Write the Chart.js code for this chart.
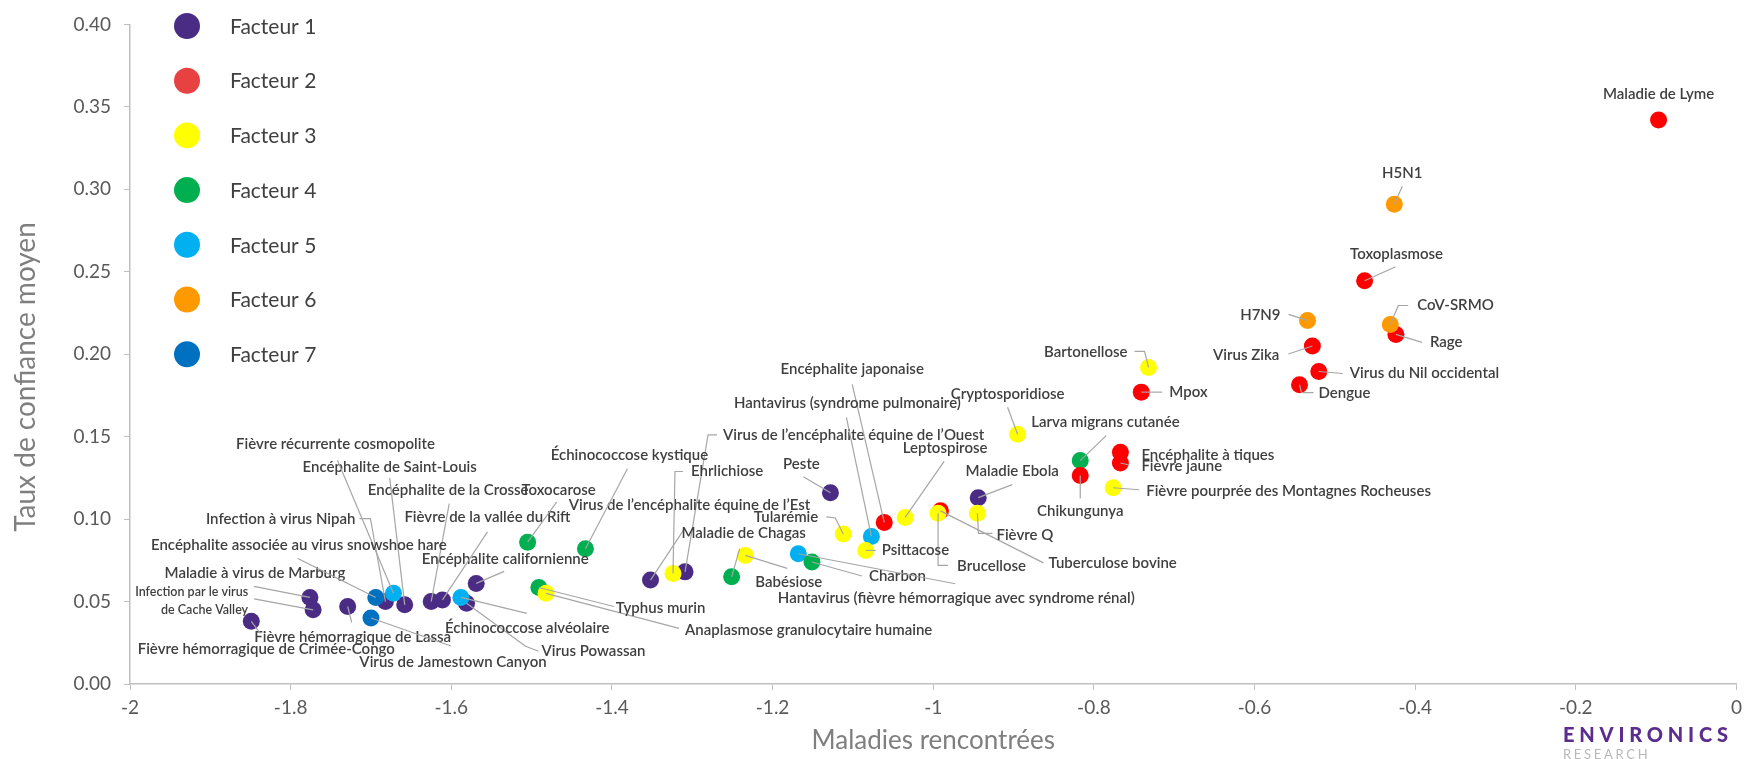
<!DOCTYPE html>
<html>
<head>
<meta charset="utf-8">
<script src="https://cdn.jsdelivr.net/npm/chart.js@4.4.1/dist/chart.umd.min.js"></script>
<style>
html, body { margin:0; padding:0; background:#fff; }
#wrap { position:relative; width:1748px; height:759px; overflow:hidden; }
#logo { position:absolute; left:1563px; top:724px; font-family:Lato, sans-serif; }
#logo .e { color:#5b2d8e; font-weight:900; font-size:20px; letter-spacing:4.8px; line-height:20px; }
#logo .r { color:#b8b8b8; font-size:13px; letter-spacing:2.7px; line-height:13px; margin-top:4px; }
</style>
</head>
<body>
<div id="wrap">
  <canvas id="chart" width="1748" height="759"></canvas>
  <div id="logo"><div class="e">ENVIRONICS</div><div class="r">RESEARCH</div></div>
</div>
<script>
// factors (series)
var factorNames = ['Facteur 1', 'Facteur 2', 'Facteur 3', 'Facteur 4', 'Facteur 5', 'Facteur 6', 'Facteur 7'];

// one entry per disease
var diseases = [
    'Peste', 'Maladie Ebola', 'Virus de l’encéphalite équine de l’Ouest', 'Virus de l’encéphalite équine de l’Est',
    'Encéphalite californienne', 'Virus Powassan', 'Fièvre de la vallée du Rift', 'Encéphalite de la Crosse',
    'Encéphalite de Saint-Louis', 'Infection à virus Nipah', 'Maladie à virus de Marburg',
    'Infection par le virus de Cache Valley', 'Fièvre hémorragique de Lassa', 'Fièvre hémorragique de Crimée-Congo',
    'Maladie de Lyme', 'Toxoplasmose', 'Rage', 'Virus Zika', 'Virus du Nil occidental', 'Dengue', 'Mpox',
    'Encéphalite à tiques', 'Fièvre jaune', 'Chikungunya', 'Encéphalite japonaise', 'Tuberculose bovine',
    'Bartonellose', 'Cryptosporidiose', 'Fièvre pourprée des Montagnes Rocheuses', 'Fièvre Q', 'Brucellose',
    'Leptospirose', 'Tularémie', 'Psittacose', 'Babésiose', 'Ehrlichiose', 'Anaplasmose granulocytaire humaine',
    'Larva migrans cutanée', 'Maladie de Chagas', 'Charbon', 'Échinococcose kystique', 'Toxocarose', 'Typhus murin',
    'Hantavirus (syndrome pulmonaire)', 'Hantavirus (fièvre hémorragique avec syndrome rénal)',
    'Fièvre récurrente cosmopolite', 'Échinococcose alvéolaire',
    'H5N1', 'H7N9', 'CoV-SRMO',
    'Encéphalite associée au virus snowshoe hare', 'Virus de Jamestown Canyon'
];
// Maladies rencontrées
var xValues = [
    -1.128, -0.944, -1.309, -1.352, -1.569, -1.581, -1.611, -1.625, -1.658, -1.682, -1.776, -1.772, -1.729, -1.849,
    -0.097, -0.463, -0.424, -0.528, -0.520, -0.544, -0.741, -0.767, -0.767, -0.817, -1.061, -0.991,
    -0.732, -0.895, -0.776, -0.945, -0.994, -1.035, -1.112, -1.084, -1.234, -1.324, -1.482,
    -0.817, -1.251, -1.151, -1.433, -1.505, -1.491,
    -1.077, -1.168, -1.672, -1.588,
    -0.426, -0.534, -0.431,
    -1.694, -1.700
];
// Taux de confiance moyen
var yValues = [
    0.116, 0.113, 0.068, 0.063, 0.061, 0.049, 0.051, 0.050, 0.048, 0.050, 0.0525, 0.045, 0.047, 0.038,
    0.342, 0.2445, 0.212, 0.205, 0.1895, 0.1815, 0.177, 0.1405, 0.134, 0.1265, 0.098, 0.105,
    0.192, 0.1515, 0.119, 0.1035, 0.1035, 0.101, 0.091, 0.081, 0.078, 0.067, 0.055,
    0.1355, 0.065, 0.074, 0.082, 0.086, 0.0585,
    0.0895, 0.079, 0.055, 0.0525,
    0.291, 0.2205, 0.218,
    0.0525, 0.040
];
var factorOf = [
    0, 0, 0, 0, 0, 0, 0, 0, 0, 0, 0, 0, 0, 0,
    1, 1, 1, 1, 1, 1, 1, 1, 1, 1, 1, 1,
    2, 2, 2, 2, 2, 2, 2, 2, 2, 2, 2,
    3, 3, 3, 3, 3, 3,
    4, 4, 4, 4,
    5, 5, 5,
    6, 6
];

var xTitle = 'Maladies rencontrées';
var yTitle = 'Taux de confiance moyen';

// styling
var pointColors = ['#4b2c85', '#ff0000', '#ffff00', '#00b050', '#00b0f0', '#ff9900', '#0070c0'];
var legendColors = ['#4b2c85', '#e84142', '#ffff00', '#00b050', '#00b0f0', '#ff9900', '#0070c0'];
var drawOrder = [6, 2, 1, 3, 4, 0, 5]; // lower = on top
var labelFont = '600 15px Lato';
var smallFont = '600 12.5px Lato';

// label placement, pixel offsets from the point: t = text anchor, k = elbow, e = leader end
var labelLayout = {
    'Maladie de Lyme': {t:[0,-26], a:'c'},
    'H5N1': {t:[8,-31], a:'c', e:[8,-18]},
    'Toxoplasmose': {t:[32,-27], a:'c', e:[31,-14]},
    'H7N9': {t:[-27,-5], a:'r', e:[-19,-6]},
    'CoV-SRMO': {t:[27,-19], a:'l', k:[8,-19], e:[18,-19]},
    'Rage': {t:[34,8], a:'l', e:[26,8]},
    'Virus Zika': {t:[-33,9], a:'r', e:[-24,8]},
    'Virus du Nil occidental': {t:[31,2], a:'l', e:[24,2]},
    'Dengue': {t:[19,8], a:'l', k:[2,8], e:[14,8]},
    'Mpox': {t:[28,0], a:'l', e:[21,0]},
    'Bartonellose': {t:[-21,-15], a:'r', k:[-4,-16], e:[-14,-16]},
    'Cryptosporidiose': {t:[-10,-40], a:'c', e:[-10,-27]},
    'Larva migrans cutanée': {t:[-49,-38], a:'l', e:[26,-25]},
    'Encéphalite à tiques': {t:[21,3], a:'l'},
    'Fièvre jaune': {t:[21,3], a:'l', e:[9,2]},
    'Chikungunya': {t:[0,36], a:'c', e:[0,23]},
    'Fièvre pourprée des Montagnes Rocheuses': {t:[33,3], a:'l', e:[26,2]},
    'Fièvre Q': {t:[19,22], a:'l', k:[1,20], e:[15,20]},
    'Maladie Ebola': {t:[34,-27], a:'c', e:[34,-13]},
    'Brucellose': {t:[19,53], a:'l', k:[0,52], e:[10,52]},
    'Tuberculose bovine': {t:[108,52], a:'l', e:[103,52]},
    'Leptospirose': {t:[40,-69], a:'c', e:[39,-56]},
    'Encéphalite japonaise': {t:[-32,-153], a:'c', e:[-32,-138]},
    'Hantavirus (syndrome pulmonaire)': {t:[-24,-133], a:'c', e:[-25,-119]},
    'Virus de l’encéphalite équine de l’Ouest': {t:[38,-137], a:'l', k:[23,-137], e:[32,-137]},
    'Peste': {t:[-29,-29], a:'c', e:[-27,-16]},
    'Ehrlichiose': {t:[18,-102], a:'l', k:[2,-102], e:[10,-102]},
    'Virus de l’encéphalite équine de l’Est': {t:[39,-75], a:'c', e:[33,-50]},
    'Tularémie': {t:[-25,-17], a:'r', k:[-8,-16], e:[-17,-17]},
    'Psittacose': {t:[16,0], a:'l', e:[10,0]},
    'Maladie de Chagas': {t:[12,-44], a:'c', e:[8,-28]},
    'Babésiose': {t:[10,27], a:'l', e:[42,13]},
    'Charbon': {t:[57,14], a:'l', e:[50,14]},
    'Hantavirus (fièvre hémorragique avec syndrome rénal)': {t:[158,44], a:'c', e:[157,30]},
    'Échinococcose kystique': {t:[44,-94], a:'c', e:[42,-80]},
    'Toxocarose': {t:[31,-52], a:'c', e:[29,-40]},
    'Encéphalite de la Crosse': {t:[17,-111], a:'c', e:[18,-98]},
    'Fièvre de la vallée du Rift': {t:[45,-83], a:'c', e:[45,-68]},
    'Encéphalite californienne': {t:[29,-24], a:'c', e:[28,-12]},
    'Encéphalite de Saint-Louis': {t:[-15,-138], a:'c', e:[-15,-127]},
    'Fièvre récurrente cosmopolite': {t:[-58,-149], a:'c', e:[-56,-133]},
    'Infection à virus Nipah': {t:[-30,-82], a:'r', k:[-15,-83], e:[-26,-83]},
    'Encéphalite associée au virus snowshoe hare': {t:[-77,-52], a:'c', e:[-78,-39]},
    'Maladie à virus de Marburg': {t:[-55,-24], a:'c', e:[-56,-11]},
    'Infection par le virus de Cache Valley': {lines:['Infection par le virus', 'de Cache Valley'], t:[-65,-18], a:'r', small:true, e:[-59,-11]},
    'Fièvre hémorragique de Crimée-Congo': {t:[15,28], a:'c', e:[9,12]},
    'Fièvre hémorragique de Lassa': {t:[5,31], a:'c', e:[4,16]},
    'Virus de Jamestown Canyon': {t:[82,44], a:'c', e:[80,28]},
    'Échinococcose alvéolaire': {t:[-16,31], a:'l', e:[66,16]},
    'Virus Powassan': {t:[75,48], a:'l', k:[59,43], e:[72,48]},
    'Typhus murin': {t:[77,21], a:'l', e:[75,19]},
    'Anaplasmose granulocytaire humaine': {t:[139,37], a:'l', e:[133,35]}
};

function buildDatasets(){
    var sets = [];
    factorNames.forEach(function(f, i){
        var pts = [], names = [];
        diseases.forEach(function(d, j){
            if(factorOf[j] == i){
                pts.push({x: xValues[j], y: yValues[j]});
                names.push(d);
            }
        });
        sets.push({
            label: f,
            data: pts,
            names: names,
            order: drawOrder[i],
            pointRadius: 8.5,
            pointHoverRadius: 8.5,
            pointBorderWidth: 0,
            pointBackgroundColor: pointColors[i],
            backgroundColor: pointColors[i]
        });
    });
    return sets;
}

var pointLabels = {
    id: 'pointLabels',
    afterDatasetsDraw: function(chart){
        var ctx = chart.ctx;
        ctx.save();
        chart.data.datasets.forEach(function(ds, i){
            var meta = chart.getDatasetMeta(i);
            meta.data.forEach(function(pt, j){
                var lay = labelLayout[ds.names[j]];
                if(!lay) return;
                var px = pt.x, py = pt.y;
                if(lay.e){
                    ctx.beginPath();
                    ctx.moveTo(px, py);
                    if(lay.k) ctx.lineTo(px + lay.k[0], py + lay.k[1]);
                    ctx.lineTo(px + lay.e[0], py + lay.e[1]);
                    ctx.strokeStyle = '#a6a6a6';
                    ctx.lineWidth = 1.2;
                    ctx.stroke();
                }
                var lines = lay.lines || [ds.names[j]];
                ctx.font = lay.small ? smallFont : labelFont;
                ctx.fillStyle = '#3f3f3f';
                ctx.textBaseline = 'middle';
                ctx.textAlign = lay.a == 'l' ? 'left' : (lay.a == 'r' ? 'right' : 'center');
                lines.forEach(function(t, n){
                    ctx.fillText(t, px + lay.t[0], py + lay.t[1] + n * 18);
                });
            });
        });
        ctx.restore();
    }
};

var factorLegend = {
    id: 'factorLegend',
    afterDraw: function(chart){
        var ctx = chart.ctx;
        ctx.save();
        factorNames.forEach(function(n, i){
            var y = 26 + i * 54.7;
            ctx.beginPath();
            ctx.arc(187, y, 13, 0, 2 * Math.PI);
            ctx.fillStyle = legendColors[i];
            ctx.fill();
            ctx.fillStyle = '#404040';
            ctx.font = '21px Lato';
            ctx.textAlign = 'left';
            ctx.textBaseline = 'middle';
            ctx.fillText(n, 230, y + 1);
        });
        ctx.restore();
    }
};

var axisTitles = {
    id: 'axisTitles',
    afterDraw: function(chart){
        var ctx = chart.ctx, a = chart.chartArea;
        ctx.save();
        ctx.fillStyle = '#7f7f7f';
        ctx.textAlign = 'center';
        ctx.textBaseline = 'middle';
        ctx.font = '26px Lato';
        ctx.fillText(xTitle, (a.left + a.right) / 2, 741);
        ctx.font = '28px Lato';
        ctx.translate(26, 377);
        ctx.rotate(-Math.PI / 2);
        ctx.fillText(yTitle, 0, 0);
        ctx.restore();
    }
};

window.onload = function(){
    var ctx = document.getElementById('chart').getContext('2d');
    new Chart(ctx, {
        type: 'scatter',
        data: { datasets: buildDatasets() },
        options: {
            responsive: false,
            animation: false,
            devicePixelRatio: 1,
            layout: { padding: { top: 23, right: 8, left: 0, bottom: 0 } },
            plugins: { legend: { display: false }, tooltip: { enabled: false } },
            scales: {
                x: {
                    type: 'linear', min: -2, max: 0,
                    afterFit: function(s){ s.height = 75; },
                    ticks: {
                        stepSize: 0.2,
                        color: '#595959',
                        font: { family: 'Lato', size: 19 },
                        padding: 6,
                        callback: function(v){ return String(Math.round(v * 10) / 10); }
                    },
                    grid: { drawOnChartArea: false, drawTicks: true, tickLength: 6, color: '#bfbfbf' },
                    border: { color: '#bfbfbf', width: 1.5 }
                },
                y: {
                    type: 'linear', min: 0, max: 0.4,
                    afterFit: function(s){ s.width = 130; },
                    ticks: {
                        stepSize: 0.05,
                        color: '#595959',
                        font: { family: 'Lato', size: 19 },
                        padding: 13,
                        callback: function(v){ return v.toFixed(2); }
                    },
                    grid: { drawOnChartArea: false, drawTicks: true, tickLength: 6, color: '#bfbfbf' },
                    border: { color: '#bfbfbf', width: 1.5 }
                }
            }
        },
        plugins: [pointLabels, factorLegend, axisTitles]
    });
};
</script>
</body>
</html>
